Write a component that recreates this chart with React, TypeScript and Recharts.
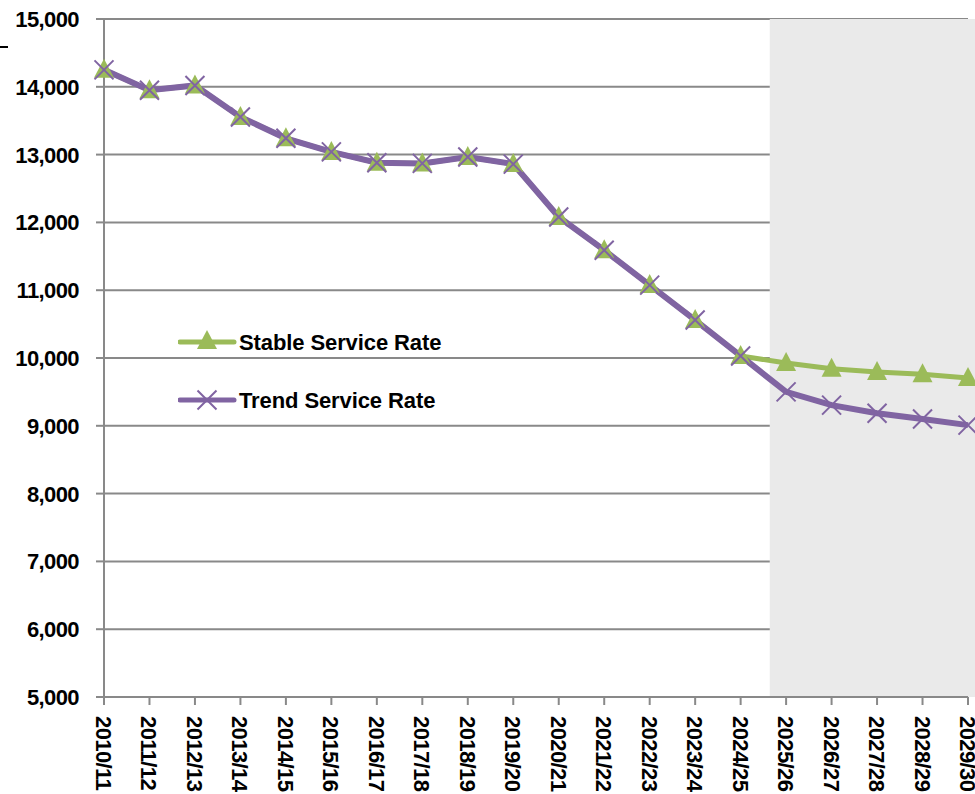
import React from 'react';
import {
	CartesianGrid,
	Line,
	LineChart,
	ReferenceArea,
	XAxis,
	YAxis,
} from 'recharts';

const years = [
	'2010/11', '2011/12', '2012/13', '2013/14', '2014/15', '2015/16', '2016/17',
	'2017/18', '2018/19', '2019/20', '2020/21', '2021/22', '2022/23', '2023/24',
	'2024/25', '2025/26', '2026/27', '2027/28', '2028/29', '2029/30',
];

const stableRate = [
	14250, 13950, 14020, 13555, 13240, 13040, 12880, 12870, 12965, 12860,
	12080, 11590, 11075, 10560, 10030, 9925, 9840, 9795, 9760, 9705,
];

const trendRate = [
	14250, 13950, 14020, 13555, 13240, 13040, 12880, 12870, 12965, 12860,
	12080, 11590, 11075, 10560, 10030, 9500, 9305, 9185, 9100, 9010,
];

const yTicks = [5000, 6000, 7000, 8000, 9000, 10000, 11000, 12000, 13000, 14000, 15000];

// forecast shading, in category-index units
const shadeStart = 14.64;
const shadeEnd = 19.2;

const GREEN = '#9bbb59';
const PURPLE = '#8064a2';
const GRID = '#898989';
const FONT = '"Liberation Sans", Arial, sans-serif';

const data = years.map((label, i) => ({
	idx: i,
	label,
	stable: stableRate[i],
	trend: trendRate[i],
}));

function Triangle(props: any) {
	const { cx, cy } = props;
	if (cx == null || cy == null) return null;
	return (
		<path
			d={`M${cx},${cy - 11} L${cx + 10},${cy + 8} L${cx - 10},${cy + 8} Z`}
			fill={GREEN}
		/>
	);
}

function Cross(props: any) {
	const { cx, cy } = props;
	if (cx == null || cy == null) return null;
	const r = 9.5;
	return (
		<path
			d={`M${cx - r},${cy - r} L${cx + r},${cy + r} M${cx - r},${cy + r} L${cx + r},${cy - r}`}
			stroke={PURPLE}
			strokeWidth={2}
			fill="none"
		/>
	);
}

function XTick(props: any) {
	const { x, y, payload } = props;
	return (
		<text
			x={x}
			y={y}
			transform={`rotate(90, ${x}, ${y})`}
			dx={9}
			dy={8}
			textAnchor="start"
			fontFamily={FONT}
			fontWeight="bold"
			fontSize={22}
			letterSpacing={-0.6}
			fill="#000"
		>
			{years[payload.value]}
		</text>
	);
}

function YTick(props: any) {
	const { x, y, payload } = props;
	return (
		<text
			x={x - 15}
			y={y + 8}
			textAnchor="end"
			fontFamily={FONT}
			fontWeight="bold"
			fontSize={22}
			letterSpacing={-0.6}
			fill="#000"
		>
			{Number(payload.value).toLocaleString('en-US')}
		</text>
	);
}

function LegendBox() {
	const items = [
		{ name: 'Stable Service Rate', color: GREEN, mark: 'tri' },
		{ name: 'Trend Service Rate', color: PURPLE, mark: 'x' },
	];
	return (
		<svg width={300} height={90}>
			{items.map((it, i) => {
				const cy = 12 + i * 58;
				return (
					<g key={it.name}>
						<line x1={2} y1={cy} x2={56} y2={cy} stroke={it.color} strokeWidth={5} strokeLinecap="round" />
						{it.mark === 'tri' ? (
							<Triangle cx={29} cy={cy - 1} />
						) : (
							<Cross cx={29} cy={cy} />
						)}
						<text
							x={61}
							y={cy + 8}
							fontFamily={FONT}
							fontWeight="bold"
							fontSize={22}
							letterSpacing={-0.1}
							fill="#000"
						>
							{it.name}
						</text>
					</g>
				);
			})}
		</svg>
	);
}

export default function App() {
	return (
		<div style={{ position: 'absolute', left: 0, top: 0, width: 975, height: 794, background: '#fff', overflow: 'hidden' }}>
			<div style={{ position: 'absolute', left: 0, top: 46, width: 8, height: 2, background: '#000' }} />
			<LineChart
				width={975}
				height={794}
				data={data}
				margin={{ top: 19, right: 7, bottom: 0, left: 0 }}
			>
				<ReferenceArea
					x1={shadeStart}
					x2={shadeEnd}
					y1={5000}
					y2={15000}
					fill="#eaeaea"
					fillOpacity={1}
					stroke="none"
					ifOverflow="visible"
				/>
				<CartesianGrid stroke={GRID} strokeWidth={2} vertical={false} />
				<XAxis
					dataKey="idx"
					type="number"
					domain={[0, 19]}
					ticks={years.map((_, i) => i)}
					interval={0}
					height={97}
					tick={<XTick />}
					tickSize={8}
					tickLine={{ stroke: GRID, strokeWidth: 2 }}
					axisLine={{ stroke: GRID, strokeWidth: 2 }}
				/>
				<YAxis
					domain={[5000, 15000]}
					ticks={yTicks}
					width={104}
					tickSize={8}
					tickLine={{ stroke: GRID, strokeWidth: 2 }}
					axisLine={{ stroke: GRID, strokeWidth: 2 }}
					tick={<YTick />}
				/>
				<Line
					dataKey="stable"
					name="Stable Service Rate"
					stroke={GREEN}
					strokeWidth={5}
					dot={<Triangle />}
					activeDot={false}
					isAnimationActive={false}
				/>
				<Line
					dataKey="trend"
					name="Trend Service Rate"
					stroke={PURPLE}
					strokeWidth={6}
					dot={<Cross />}
					activeDot={false}
					isAnimationActive={false}
				/>
			</LineChart>
			<div style={{ position: 'absolute', left: 178, top: 330 }}>
				<LegendBox />
			</div>
		</div>
	);
}
